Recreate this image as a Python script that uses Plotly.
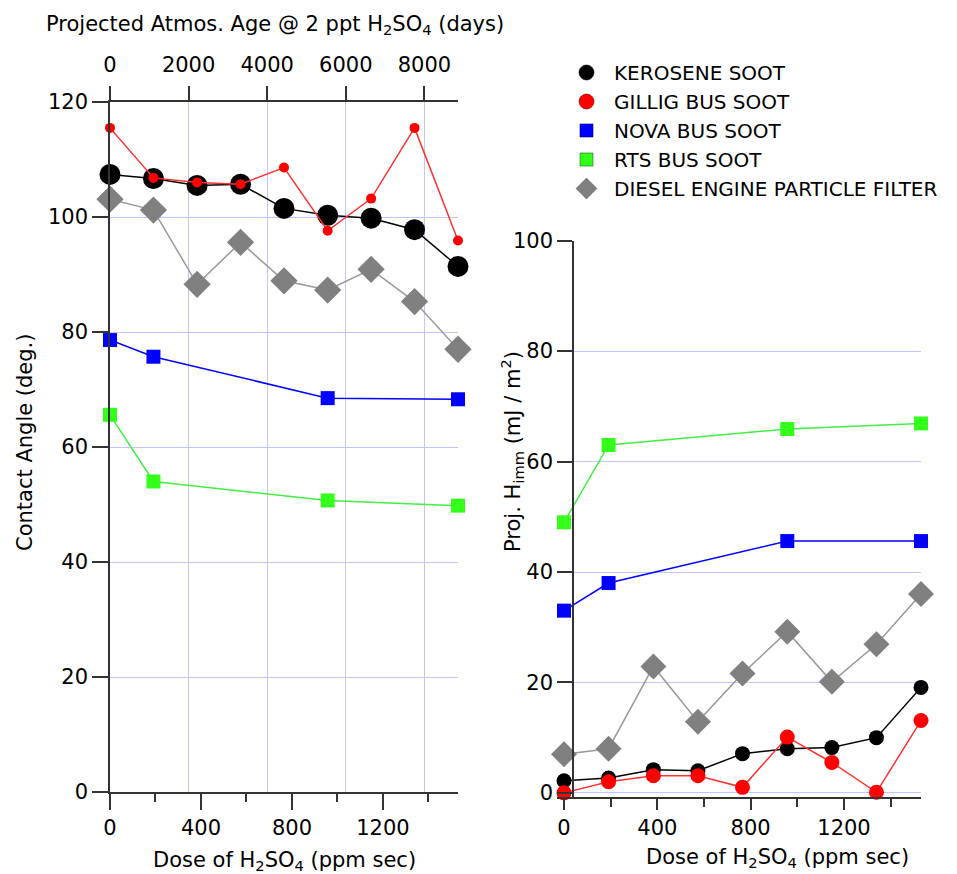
import plotly.graph_objects as go

# ---------------- data ----------------
dose = [0, 191, 383, 574, 765, 957, 1148, 1339, 1530]
dose_bus = [0, 191, 957, 1530]

# contact angle (deg.)
ca_kerosene = [107.4, 106.7, 105.5, 105.7, 101.5, 100.3, 99.8, 97.8, 91.4]
ca_gillig = [115.5, 106.8, 106.0, 105.7, 108.6, 97.6, 103.2, 115.5, 95.9]
ca_nova = [78.6, 75.7, 68.5, 68.3]
ca_rts = [65.6, 54.0, 50.7, 49.8]
ca_diesel = [103.1, 101.2, 88.3, 95.6, 88.9, 87.3, 90.9, 85.3, 77.0]

# projected H_imm (mJ / m^2)
h_kerosene = [2.2, 2.7, 4.2, 4.0, 7.1, 8.0, 8.2, 10.0, 19.1]
h_gillig = [0.0, 2.0, 3.1, 3.1, 1.0, 10.1, 5.5, 0.1, 13.1]
h_nova = [33.0, 38.0, 45.6, 45.6]
h_rts = [49.0, 63.0, 65.9, 66.9]
h_diesel = [7.0, 8.0, 22.9, 12.9, 21.6, 29.2, 20.1, 26.9, 36.0]

names = ["KEROSENE SOOT", "GILLIG BUS SOOT", "NOVA BUS SOOT", "RTS BUS SOOT",
         "DIESEL ENGINE PARTICLE FILTER"]

dose_ticks = [0, 400, 800, 1200]
days_ticks = [0, 2000, 4000, 6000, 8000]
days_range = [0, 8855]
ca_ticks = [0, 20, 40, 60, 80, 100, 120]
h_ticks = [0, 20, 40, 60, 80, 100]

# ---------------- styling ----------------
W, H = 957, 874
FONT = "DejaVu Sans"
FS = 21
GRID = "#c4c4ff"
AX = "#333333"
BLACK, RED, BLUE, GREEN, GRAY = "#000000", "#ff0000", "#0000ff", "#33ff1a", "#808080"
LRED, LGREEN, LGRAY = "#ff3030", "#44ee44", "#999999"


def px(x):
    return x / W


def py(y):
    return 1 - y / H


fig = go.Figure()


def add(x, y, xa, ya, color, lcolor, symbol, size, lw=1.5):
    fig.add_trace(go.Scatter(
        x=x, y=y, xaxis=xa, yaxis=ya, mode="lines+markers",
        line=dict(color=lcolor, width=lw),
        marker=dict(color=color, symbol=symbol, size=size, line=dict(width=0)),
        cliponaxis=False, showlegend=False, hoverinfo="x+y"))


# left panel
add(dose, ca_diesel, "x", "y", GRAY, LGRAY, "diamond", 21)
add(dose_bus, ca_rts, "x", "y", GREEN, LGREEN, "square", 14)
add(dose_bus, ca_nova, "x", "y", BLUE, BLUE, "square", 14)
add(dose, ca_kerosene, "x", "y", BLACK, BLACK, "circle", 21)
add(dose, ca_gillig, "x", "y", RED, LRED, "circle", 10)

# right panel
add(dose, h_diesel, "x2", "y2", GRAY, LGRAY, "diamond", 20)
add(dose_bus, h_rts, "x2", "y2", GREEN, LGREEN, "square", 14)
add(dose_bus, h_nova, "x2", "y2", BLUE, BLUE, "square", 14)
add(dose, h_kerosene, "x2", "y2", BLACK, BLACK, "circle", 15)
add(dose, h_gillig, "x2", "y2", RED, LRED, "circle", 15)

# empty trace so the top (days) axis is drawn
fig.add_trace(go.Scatter(x=[None], y=[None], xaxis="x3", yaxis="y", mode="markers",
                         showlegend=False, hoverinfo="skip"))

# legend entries (markers only)
leg = [(BLACK, "circle", 15, BLACK), (RED, "circle", 15, "#660000"),
       (BLUE, "square", 13, "#000066"), (GREEN, "square", 13, "#116611"),
       (GRAY, "diamond", 19, "#555555")]
for nm, (c, s, sz, oc) in zip(names, leg):
    fig.add_trace(go.Scatter(x=[None], y=[None], xaxis="x2", yaxis="y2", mode="markers",
                             marker=dict(color=c, symbol=s, size=sz, line=dict(width=0.6, color=oc)),
                             name=nm, showlegend=True))

tickfont = dict(family=FONT, size=FS, color="black")
common = dict(showline=True, linecolor=AX, linewidth=1.5, ticks="outside",
              tickcolor=AX, tickwidth=1.5, zeroline=False, automargin=False,
              tickfont=tickfont, mirror=False)

fig.update_layout(
    width=W, height=H,
    margin=dict(l=0, r=0, t=0, b=0),
    paper_bgcolor="white", plot_bgcolor="white",
    font=dict(family=FONT, size=FS, color="black"),
    template="none",
    xaxis=dict(domain=[px(110), px(458)], range=[0, 1530], anchor="y",
               tickvals=dose_ticks, ticklen=16, showgrid=False,
               minor=dict(ticks="outside", ticklen=8, tick0=0, dtick=200,
                          tickcolor=AX, tickwidth=1.5, showgrid=False),
               **common),
    yaxis=dict(domain=[py(792), py(102)], range=[0, 120], anchor="x",
               tickvals=ca_ticks, ticklen=16, showgrid=True, gridcolor=GRID, gridwidth=1,
               **common),
    xaxis3=dict(overlaying="x", side="top", anchor="y", range=days_range,
                tickvals=days_ticks, ticklen=14, showgrid=True, gridcolor=GRID, gridwidth=1,
                ticklabelstandoff=6, **common),
    xaxis2=dict(domain=[px(557), px(921)], range=[-30, 1530], anchor="y2",
                tickvals=dose_ticks, ticklen=11, showgrid=False,
                minor=dict(ticks="outside", ticklen=8, tick0=0, dtick=200,
                           tickcolor=AX, tickwidth=1.5, showgrid=False),
                **common),
    yaxis2=dict(domain=[py(797), py(240.7)], range=[-0.75, 100], anchor="free",
                position=px(573), tickvals=h_ticks, ticklen=15, showgrid=True,
                gridcolor=GRID, gridwidth=1, **common),
    legend=dict(x=px(559), y=py(53), xanchor="left", yanchor="top",
                font=dict(family=FONT, size=20, color="black"),
                bgcolor="rgba(0,0,0,0)", itemwidth=45),
    showlegend=True,
)

fig.add_annotation(text="Projected Atmos. Age @ 2 ppt H<sub>2</sub>SO<sub>4</sub> (days)",
                   x=px(275), y=py(25), xref="paper", yref="paper", showarrow=False,
                   font=dict(family=FONT, size=FS), xanchor="center", yanchor="middle")
fig.add_annotation(text="Dose of H<sub>2</sub>SO<sub>4</sub> (ppm sec)",
                   x=px(284), y=py(861), xref="paper", yref="paper", showarrow=False,
                   font=dict(family=FONT, size=FS), xanchor="center", yanchor="middle")
fig.add_annotation(text="Dose of H<sub>2</sub>SO<sub>4</sub> (ppm sec)",
                   x=px(777), y=py(858), xref="paper", yref="paper", showarrow=False,
                   font=dict(family=FONT, size=FS), xanchor="center", yanchor="middle")
fig.add_annotation(text="Contact Angle (deg.)", textangle=-90,
                   x=px(25), y=py(443), xref="paper", yref="paper", showarrow=False,
                   font=dict(family=FONT, size=FS), xanchor="center", yanchor="middle")
fig.add_annotation(text="Proj. H<sub>imm</sub> (mJ / m<sup>2</sup>)", textangle=-90,
                   x=px(512), y=py(452), xref="paper", yref="paper", showarrow=False,
                   font=dict(family=FONT, size=FS), xanchor="center", yanchor="middle")

fig.write_html("out.html", config={"displayModeBar": False},
               post_script="document.body.style.margin='0';document.body.style.overflow='hidden';")
